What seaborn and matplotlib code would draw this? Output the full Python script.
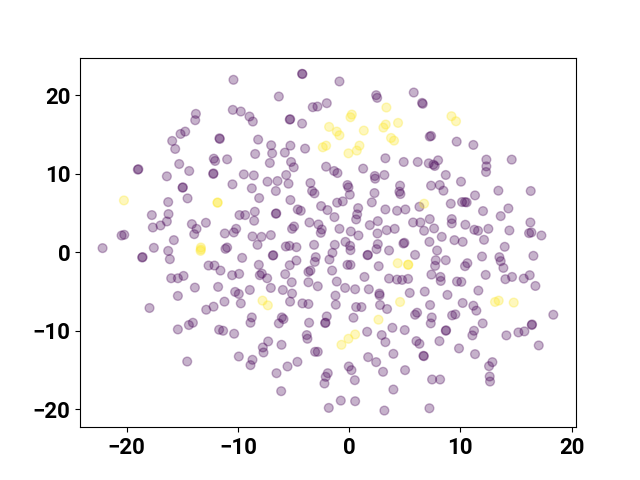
import matplotlib
matplotlib.use("Agg")
import matplotlib.pyplot as plt
import pandas as pd
import seaborn as sns

# points, cluster 0 (purple)
x_purple = [
    -10.40, -13.78, -13.84, -14.74, -15.16, -15.91, -15.64, -11.66, -11.63, -10.46, -9.74,
    -12.17, -12.05, -10.97, -15.28, -14.38, -19.00, -18.95, -16.39, -12.22, -12.20, -9.47,
    -4.23, -4.20, -0.87, -6.32, -8.96, -8.66, -3.27, -2.85, -2.01, 2.43, 2.52, -5.34, -5.30,
    -4.23, -8.18, -7.01, -8.45, -6.92, -5.78, -5.28, -3.96, -7.13, -5.22, -4.98, -2.07,
    -1.35, -1.05, 1.26, 3.26, 4.91, -5.66, -8.57, 2.31, 2.34, 3.17,
    5.81, 6.56, 6.62, 7.37, 7.25, 9.67, 11.17, 6.17, 7.16, 8.00, 7.58, 7.70, 8.69,
    12.34, 12.34, 12.31, 14.62,
    -14.98, -14.95, -10.49, -14.53, -16.27, -17.74, -16.24, -16.39, -16.96, -17.65,
    -9.86, -9.35, -14.14, -13.72, -12.88, -13.93, -11.18, -10.16, -10.37, -20.46, -20.22,
    -15.76, -22.17, -17.56, -16.27, -18.61, -18.57, -16.12, -10.97, -11.12, -9.62,
    -12.64, -12.11, -11.57, -10.52, -9.89, -16.00, -15.40, -14.89, -13.87, -11.78,
    -15.40, -10.25, -9.92, -11.21,
    -7.34, -6.44, -5.45, -3.48, -8.75, -8.09, -6.59, -5.28, -3.33, -3.12, -0.15, -0.06,
    0.06, 2.28, 4.58, 4.52, 4.61, 2.04, -1.08, -0.57, -2.52, -1.95, -4.62, -4.35, -1.32,
    0.81, 0.72, 0.63, 3.26, 4.31, 5.06, -8.48, -8.54, -6.59, -6.55, -3.57, -2.76, -2.46,
    -2.55, -4.95, -5.13, -0.87, 0.15, 0.84, 1.86, 2.58, 2.55, 3.38, 4.10, -8.69, -7.88,
    -7.04, -8.24, -5.69, -5.36, -4.74, -3.15, -1.29, -0.33, 0.09, 0.12, 2.58, 2.46, 4.88,
    4.97, 3.59, -6.86, -6.82, -3.00, -3.09, -1.50, -1.77, -4.74, -5.34, 1.65, 1.69, -0.15,
    0.12, 2.66, -8.12, -8.03, -7.85, -7.37, -5.75, -3.66, -3.48, -1.53, 1.38, 3.59, 4.31,
    4.76, 5.30, -5.16, -3.66, -2.82, -1.11, -0.36, 0.54, 1.77, -8.93, -7.04, -5.96, -5.13,
    -1.23, 2.72, 2.74, 5.45, -5.31,
    7.37, 8.15, 8.48, 10.06, 11.32, 13.42, 16.33, 9.14, 10.15, 10.42, 10.57, 6.32, 12.04,
    13.63, 14.32, 7.25, 5.75, 6.41, 6.74, 7.64, 9.23, 9.23, 10.45, 11.26, 11.59, 12.52,
    14.41, 16.30, 16.18, 16.39, 17.29, 8.33, 7.22, 9.47, 10.21, 12.13, 13.99, 7.91, 5.93,
    8.69, 7.79, 7.73, 10.63, 10.42, 11.95, 13.51, 13.63, 13.87, 16.57, 7.40, 8.21, 8.24,
    12.28, 9.70, 10.09, 14.05, 14.65, 15.70, 16.24, 16.75, 11.62, 6.80, 8.84, 10.21,
    -17.95, -12.85, -12.19, -9.74, -14.05, -14.41, -15.40, -11.69, -11.33, -10.34, -9.92,
    -14.56,
    -8.75, -8.87, -6.05, -5.90, -6.32, -3.60, -2.01, -2.16, -2.12, 0.39, -1.20, -4.20,
    -3.66, 0.63, 1.11, 2.78, 3.41, -3.81, -3.75, -7.28, -6.08, -7.76, -7.70, -3.06, -2.82,
    1.62, 2.93, 3.26, 3.89, 5.00, 3.98, 1.71, 2.43, -8.69, -8.87, -4.65, -5.54, -6.53,
    -0.03, 0.21, -1.92, -2.10, -2.22, 3.05, 5.03, 0.51, -6.11, 3.98, -0.75, 0.54, -1.83,
    3.17,
    7.28, 11.17, 11.44, 5.93, 6.11, 7.43, 7.34, 9.26, 9.55, 12.01, 18.36, 8.69, 8.72,
    11.23, 11.08, 14.14, 15.22, 15.76, 16.42, 16.45, 17.05, 6.05, 6.32, 8.12, 9.88, 11.32,
    6.68, 6.72, 12.88, 12.58, 12.64, 12.67, 7.46, 8.18, 7.22,
]
y_purple = [
    21.97, 17.63, 16.82, 15.37, 15.07, 14.18, 13.16, 14.52, 14.43, 18.14, 17.93,
    11.92, 11.63, 11.84, 11.24, 10.35, 10.52, 10.58, 9.67, 9.97, 10.05, 9.92,
    22.74, 22.70, 21.76, 19.84, 17.29, 16.65, 18.48, 18.56, 18.99, 20.01, 19.67, 16.90, 16.95,
    16.39, 14.35, 13.63, 12.52, 12.60, 12.69, 13.58, 13.20, 11.37, 11.50, 10.82, 10.90,
    10.35, 10.09, 10.65, 11.97, 11.50, 9.84, 9.79, 9.71, 9.37, 9.84,
    20.35, 19.03, 18.91, 14.82, 14.73, 14.09, 13.67, 11.50, 11.33, 11.71, 11.16, 10.99, 9.84,
    11.80, 10.94, 10.22, 11.80,
    8.22, 8.27, 8.65, 6.86, 6.39, 4.73, 4.86, 3.92, 3.41, 3.15,
    4.73, 4.73, 3.58, 2.98, 3.75, 2.30, 2.39, 2.98, 2.52, 2.13, 2.22,
    1.54, 0.52, 0.56, 0.17, -0.68, -0.62, -0.89, 0.60, 0.43, -0.72,
    -1.70, -1.70, -2.34, -2.93, -2.76, -3.32, -3.32, -3.02, -4.51, -4.42,
    -5.57, -5.06, -5.32, -6.30,
    8.99, 9.07, 8.73, 8.82, 8.14, 6.90, 7.80, 6.65, 7.80, 7.50, 8.56, 8.26,
    7.33, 7.54, 8.48, 7.71, 7.41, 6.35, 6.31, 6.48, 5.88, 5.37, 5.45, 5.28, 4.47,
    5.62, 4.82, 4.18, 5.45, 5.28, 5.45, 5.16, 4.01, 4.90, 4.95, 3.79, 3.54, 2.90,
    2.47, 3.28, 2.98, 2.98, 2.64, 2.13, 3.45, 3.96, 2.39, 2.81, 2.98, 2.01, 1.96,
    2.18, 0.94, 0.73, 0.81, 0.64, 0.94, 0.94, 1.32, 0.81, 0.26, 1.03, 0.39, 1.11,
    1.20, 0.22, -0.42, -0.38, -0.63, -1.23, -0.08, -0.93, -1.06, -1.66, -0.38, -0.34, -1.61,
    -1.61, -1.78, -1.61, -2.93, -2.72, -3.32, -2.80, -2.51, -2.34, -2.34, -3.15, -3.36, -3.49,
    -3.53, -3.40, -3.83, -3.83, -4.34, -3.74, -4.55, -4.72, -4.72, -4.81, -4.55, -4.81, -5.27,
    -5.53, -5.27, -5.49, -5.19, -6.30,
    8.48, 8.56, 7.84, 8.99, 7.24, 7.84, 7.80, 6.18, 6.39, 6.39, 6.35, 5.79, 5.24,
    4.60, 5.58, 4.22, 3.79, 3.79, 2.73, 3.03, 4.22, 3.67, 3.50, 2.86, 2.73, 2.98,
    2.77, 3.79, 2.43, 2.52, 2.13, 1.96, 1.32, 1.54, 1.32, 1.58, 0.69, 0.22, -0.34,
    -1.02, -1.02, -1.74, -1.40, -1.78, -0.55, -0.63, -1.14, -2.00, -0.46, -2.85, -3.15, -3.66,
    -2.89, -3.74, -3.78, -3.44, -3.15, -3.36, -2.93, -4.30, -4.89, -5.02, -5.44, -6.47,
    -7.11, -7.33, -6.94, -6.52, -8.99, -9.28, -9.84, -9.88, -10.01, -10.39, -13.29,
    -13.93,
    -8.31, -8.99, -8.31, -8.52, -9.07, -8.99, -8.18, -9.03, -8.98, -8.35, -6.69, -6.52,
    -6.60, -6.99, -6.99, -6.73, -7.24, -10.56, -11.03, -11.37, -11.80, -12.14, -12.78, -12.69, -12.69,
    -10.14, -10.56, -11.46, -9.63, -9.92, -12.95, -13.37, -14.01, -13.71, -14.39, -13.97, -14.56, -15.42,
    -14.56, -15.03, -15.42, -15.88, -16.73, -15.24, -15.03, -16.31, -17.71, -17.50, -18.91, -18.99, -19.84,
    -20.18,
    -6.73, -6.82, -7.45, -7.97, -7.71, -8.31, -9.07, -8.05, -7.92, -9.07, -7.97, -10.01, -9.95,
    -10.01, -10.60, -10.60, -10.22, -10.09, -9.28, -9.20, -11.88, -11.33, -11.67, -11.33, -12.26, -12.99,
    -13.20, -13.25, -14.01, -14.52, -15.84, -16.48, -16.22, -16.22, -19.89,
]

# cluster 1 (yellow)
x_yellow = [
    3.35, 0.24, 0.12, 4.40, 3.29, 3.08, -1.80, -1.11, -0.87, 1.32, 3.77, 4.04, -2.07, -2.37,
    0.93, 0.69, -0.06, 9.20, 9.61, -20.25, -11.84, -11.82, -13.33, -13.36, -13.33, 4.37,
    5.30, 5.32, -7.79, 4.58, 6.74, 13.12, 13.45, 14.80, 2.64, 0.54, -0.06, -0.69, -7.31,
]
y_yellow = [
    18.44, 17.54, 17.20, 16.48, 16.27, 15.88, 15.97, 15.37, 14.90, 15.50, 14.56, 14.22, 13.58, 13.37,
    13.58, 12.95, 12.60, 17.33, 16.69, 6.60, 6.31, 6.33, 0.60, 0.17, 0.35, -1.40,
    -1.61, -1.58, -6.17, -6.34, 6.18, -6.34, -6.17, -6.42, -8.60, -10.48, -11.03, -11.80, -6.77,
]

df = pd.DataFrame(
    {
        "x": x_purple + x_yellow,
        "y": y_purple + y_yellow,
        "label": [0] * len(x_purple) + [1] * len(x_yellow),
    }
)

plt.rcParams["font.family"] = "Roboto"

fig, ax = plt.subplots(figsize=(6.4, 4.8), dpi=100)

sns.scatterplot(
    data=df,
    x="x",
    y="y",
    hue="label",
    palette={0: "#440154", 1: "#fde725"},
    s=40,
    alpha=0.3,
    edgecolor="face",
    linewidth=1,
    legend=False,
    ax=ax,
)

ax.set_xlim(-24.2, 20.4)
ax.set_ylim(-22.3, 24.8)
ax.set_xticks([-20, -10, 0, 10, 20])
ax.set_yticks([-20, -10, 0, 10, 20])
ax.set_xlabel("")
ax.set_ylabel("")
ax.tick_params(labelsize=16)
for lab in ax.get_xticklabels() + ax.get_yticklabels():
    lab.set_fontweight("bold")

plt.savefig("out.png", dpi=100)
